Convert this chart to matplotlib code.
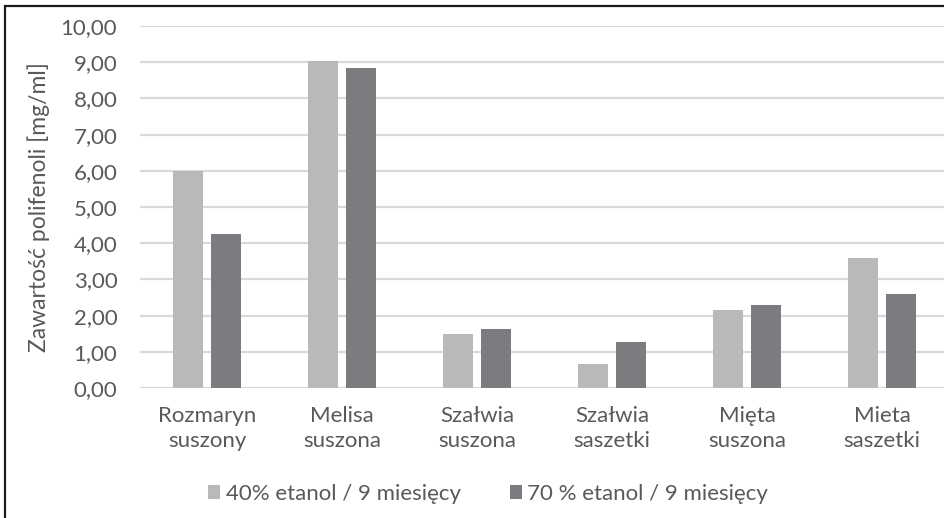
import matplotlib
matplotlib.use("Agg")
import matplotlib.pyplot as plt
from matplotlib.patches import Rectangle
import numpy as np

plt.rcParams['font.family'] = ['Lato', 'DejaVu Sans']

categories = ["Rozmaryn\nsuszony", "Melisa\nsuszona", "Szałwia\nsuszona",
              "Szałwia\nsaszetki", "Mięta\nsuszona", "Mieta\nsaszetki"]
etanol_40 = [6.00, 9.04, 1.49, 0.67, 2.15, 3.60]
etanol_70 = [4.25, 8.83, 1.63, 1.27, 2.29, 2.60]
series_labels = ["40% etanol / 9 miesięcy", "70 % etanol / 9 miesięcy"]
yticks = [0, 1, 2, 3, 4, 5, 6, 7, 8, 9, 10]

c_light = "#b9b9bc"
c_dark = "#7b7c80"
c_text = "#595959"
c_grid = "#d9d9d9"
fs = 16

W, H = 944, 518
fig = plt.figure(figsize=(W / 100, H / 100), dpi=100)

# plot area runs past the right edge of the canvas
left, right = 139.5, 949.5
top, bottom = 26, 388
ax = fig.add_axes([left / W, 1 - bottom / H, (right - left) / W, (bottom - top) / H])

x = np.arange(len(categories))
bw = 0.222
off = 0.141
b1 = ax.bar(x - off, etanol_40, width=bw, color=c_light, label=series_labels[0], zorder=3)
b2 = ax.bar(x + off, etanol_70, width=bw, color=c_dark, label=series_labels[1], zorder=3)

ax.set_xlim(-0.5, len(categories) - 0.5)
ax.set_ylim(0, 10)
ax.set_yticks(yticks)
ax.set_yticklabels([f"{v:.2f}".replace(".", ",") for v in yticks])
ax.set_xticks(x)
ax.set_xticklabels(categories, linespacing=1.3)

ax.grid(axis="y", color=c_grid, linewidth=1.6, zorder=0)
for s in ax.spines.values():
    s.set_visible(False)
ax.tick_params(axis="both", length=0, colors=c_text, labelsize=fs)
ax.tick_params(axis="y", pad=16)
ax.tick_params(axis="x", pad=13)

ax.set_ylabel("Zawartość polifenoli [mg/ml]", color=c_text, fontsize=16.5, labelpad=8)

fig.legend(handles=[b1, b2], labels=series_labels, loc="center",
           bbox_to_anchor=(488 / W, 1 - 494 / H), ncol=2, frameon=False,
           fontsize=fs, labelcolor=c_text, handlelength=0.55, handleheight=0.55,
           handletextpad=0.25, columnspacing=2.2)

# outer chart border (continues past the right and bottom edges)
fig.patches.append(Rectangle((5 / W, -0.05), 1.05, 1 - 6 / H + 0.05,
                             transform=fig.transFigure, fill=False,
                             edgecolor="#1a1a1a", linewidth=1.6))

fig.savefig("out.png", dpi=100)
